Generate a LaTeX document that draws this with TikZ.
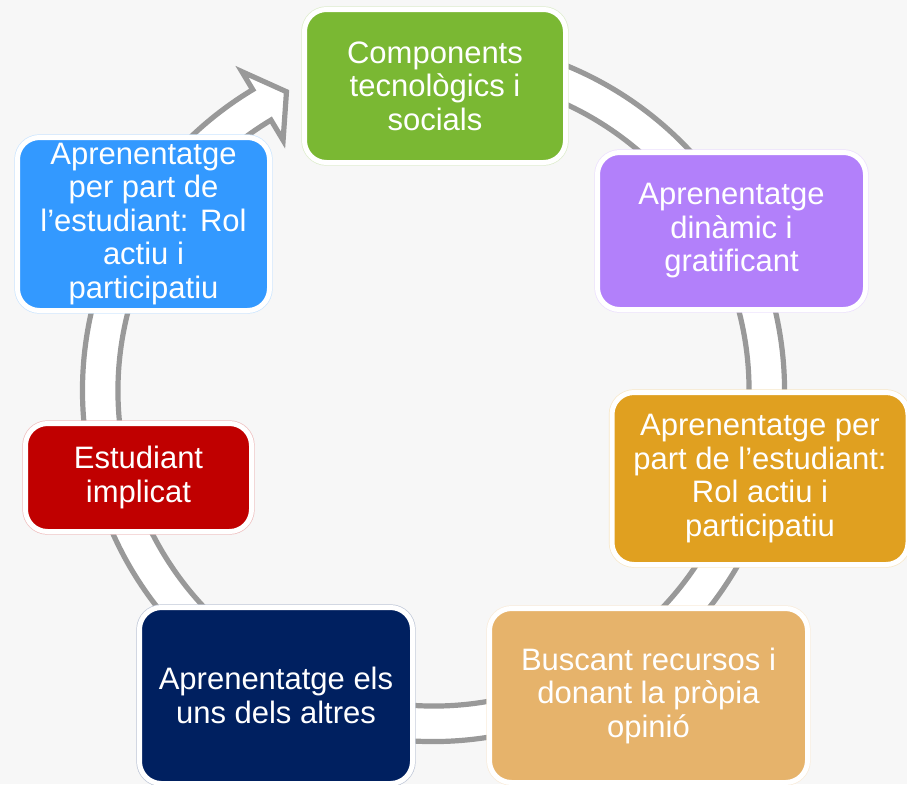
\documentclass[tikz,border=0pt]{standalone}
\usepackage{fontspec}
\setmainfont{Liberation Sans}
\usetikzlibrary{calc}
\definecolor{bggray}{HTML}{F7F7F7}
\definecolor{ringgray}{HTML}{999999}
\definecolor{cgreen}{RGB}{122,184,51}
\definecolor{cpurple}{RGB}{178,128,250}
\definecolor{cgold}{RGB}{224,160,32}
\definecolor{corange}{RGB}{230,179,107}
\definecolor{cnavy}{HTML}{002060}
\definecolor{cred}{HTML}{C00000}
\definecolor{cblue}{HTML}{3399FF}

\begin{document}
\begin{tikzpicture}[x=0.5pt,y=-0.5pt,
	box/.style={rectangle,rounded corners=11pt,draw=white,line width=2.5pt,
		fill=#1,preaction={draw=#1!25,line width=3.2pt},
		text=white,align=center,inner sep=0pt,font=\fontsize{15.5}{16.75}\selectfont},
	ring/.style={draw=ringgray,fill=white,line width=2.6pt,line join=miter}]
			\fill[bggray] (0,0) rectangle (907,784);
			\useasboundingbox (0,0) rectangle (907,784);
			% circular arrow behind the boxes
			\coordinate (c) at (433.5,390.5);
			\draw[ring] ($(c)+(100:175.5pt)$) arc[start angle=100,end angle=-239,radius=175.5pt]
				-- ($(c)+(-239:186pt)$) -- ($(c)+(-243.8:166.5pt)$) -- ($(c)+(-239:146pt)$)
				-- ($(c)+(-239:157.75pt)$) arc[start angle=-239,end angle=100,radius=157.75pt] -- cycle;
			% boxes
			\node[box=cgreen,minimum width=130.5pt,minimum height=76.5pt] (comp) at (435,86) {Components\\tecnològics i\\socials};
			\node[box=cpurple,minimum width=134pt,minimum height=78.5pt] (dinamic) at (731.5,231) {Aprenentatge\\dinàmic i\\gratificant};
			\node[box=cgold,minimum width=148pt,minimum height=86pt] (rolA) at (760,478.5) {Aprenentatge per\\part de l’estudiant:\\Rol actiu i\\participatiu};
			\node[box=corange,minimum width=159pt,minimum height=87pt] (recursos) at (648.5,695.5) {Buscant recursos i\\donant la pròpia\\opinió};
			\node[box=cnavy,minimum width=136.5pt,minimum height=88pt] (altres) at (276,695.5) {Aprenentatge els\\uns dels altres};
			\node[box=cred,minimum width=113pt,minimum height=54pt] (implicat) at (138.5,477.5) {Estudiant\\implicat};
			\node[box=cblue,minimum width=126pt,minimum height=86.5pt] (rolB) at (143.5,224) {Aprenentatge\\per part de\\l’estudiant: Rol\\actiu i\\participatiu};
		\end{tikzpicture}
\end{document}
